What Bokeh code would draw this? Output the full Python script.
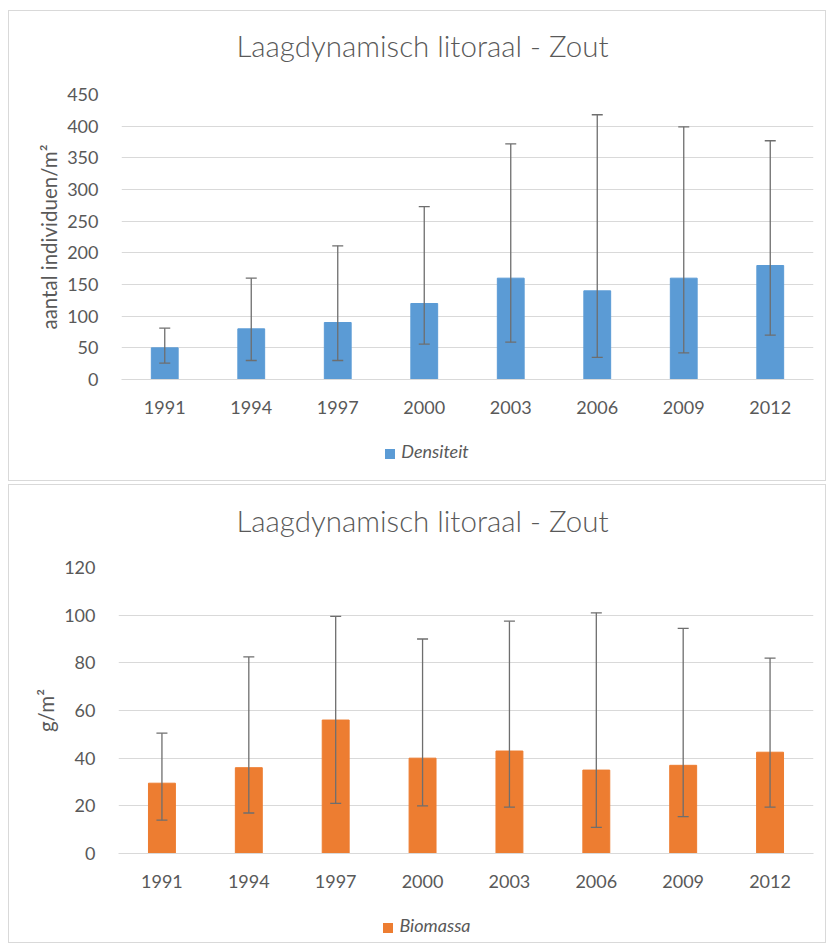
from bokeh.plotting import figure
from bokeh.models import (ColumnDataSource, FactorRange, Range1d, FixedTicker,
                          Whisker, TeeHead, Div)
from bokeh.layouts import column
from bokeh.embed import file_html
from bokeh.resources import INLINE

# ---- data ----
years = ["1991", "1994", "1997", "2000", "2003", "2006", "2009", "2012"]
dens = [50, 80, 90, 120, 160, 140, 160, 180]
dens_lo = [26, 30, 30, 56, 59, 35, 42, 70]
dens_hi = [81, 160, 211, 273, 372, 418, 399, 377]
bio = [29.5, 36, 56, 40, 43, 35, 37, 42.5]
bio_lo = [14, 17, 21, 20, 19.5, 11, 15.5, 19.5]
bio_hi = [50.5, 82.5, 99.5, 90, 97.5, 101, 94.5, 82]
dens_ticks = [0, 50, 100, 150, 200, 250, 300, 350, 400, 450]
bio_ticks = [0, 20, 40, 60, 80, 100, 120]
title_text = "Laagdynamisch litoraal - Zout"
dens_label = "aantal individuen/m²"
bio_label = "g/m²"
dens_series = "Densiteit"
bio_series = "Biomassa"

FONT = "Lato"
TXT = "#595959"
GRID = "#D9D9D9"
W = 816


def title_div(h):
    html = (f'<div style="width:{W}px;height:{h}px;line-height:{h}px;'
            f'box-sizing:border-box;padding-left:11px;text-align:center;'
            f'font-family:{FONT};font-size:29.5px;font-weight:300;color:{TXT};'
            f'white-space:nowrap">{title_text}</div>')
    return Div(text=html, width=W, height=h, margin=0)


def legend_div(h, series, color):
    html = (f'<div style="width:{W}px;height:{h}px;box-sizing:border-box;'
            f'padding-top:17px;padding-left:20px;text-align:center;'
            f'line-height:20px;white-space:nowrap;font-family:{FONT};'
            f'font-size:18px;font-style:italic;color:{TXT}">'
            f'<span style="display:inline-block;width:10px;height:10px;'
            f'background:{color};margin-right:6px;vertical-align:-1px"></span>'
            f'{series}</div>')
    return Div(text=html, width=W, height=h, margin=0)


def make_fig(vals, lo, hi, color, ylabel, ticks, height, b_left, b_top, b_bottom):
    src = ColumnDataSource(dict(x=years, top=vals, lower=lo, upper=hi))
    p = figure(x_range=FactorRange(*years, range_padding=0),
               y_range=Range1d(ticks[0], ticks[-1]),
               width=W, height=height, output_backend="svg",
               toolbar_location=None, margin=0,
               min_border_left=b_left, min_border_right=12,
               min_border_top=b_top, min_border_bottom=b_bottom,
               background_fill_color="white", border_fill_color="white",
               outline_line_color=None)
    p.vbar(x="x", top="top", width=0.31, source=src,
           fill_color=color, line_color=color)
    w = Whisker(base="x", upper="upper", lower="lower", source=src,
                level="overlay",
                line_color="#6E6E6E", line_width=1.3,
                upper_head=TeeHead(size=11, line_color="#6E6E6E", line_width=1.3),
                lower_head=TeeHead(size=11, line_color="#6E6E6E", line_width=1.3))
    p.add_layout(w)

    p.xgrid.grid_line_color = None
    p.ygrid.grid_line_color = GRID
    p.ygrid.grid_line_width = 1
    p.yaxis.ticker = FixedTicker(ticks=ticks)
    p.yaxis.axis_line_color = None
    p.yaxis.major_tick_line_color = None
    p.yaxis.minor_tick_line_color = None
    p.yaxis.major_label_standoff = 17
    p.yaxis.axis_label = ylabel
    p.yaxis.axis_label_standoff = 3
    p.yaxis.axis_label_text_font = FONT
    p.yaxis.axis_label_text_font_size = "20.5px"
    p.yaxis.axis_label_text_font_style = "normal"
    p.yaxis.axis_label_text_color = TXT
    p.xaxis.axis_line_color = GRID
    p.xaxis.major_tick_line_color = None
    p.xaxis.minor_tick_line_color = None
    p.xaxis.major_label_standoff = 15
    for ax in (p.xaxis, p.yaxis):
        ax.major_label_text_font = FONT
        ax.major_label_text_font_size = "18px"
        ax.major_label_text_color = TXT
    return p


f1 = make_fig(dens, dens_lo, dens_hi, "#5B9BD5", dens_label, dens_ticks,
              343, 112, 13, 45)
f2 = make_fig(bio, bio_lo, bio_hi, "#ED7D31", bio_label, bio_ticks,
              342, 109, 11, 45)

BORDER = {"border": "1px solid #D9D9D9"}
panel1 = column(title_div(70), f1, legend_div(56, dens_series, "#5B9BD5"),
                spacing=0, margin=0, styles=BORDER)
panel2 = column(title_div(71), f2, legend_div(44, bio_series, "#ED7D31"),
                spacing=0, margin=0, styles=BORDER)

layout = column(panel1, panel2, spacing=3, margin=(10, 0, 0, 8))
open("out.html", "w").write(file_html(layout, INLINE))
